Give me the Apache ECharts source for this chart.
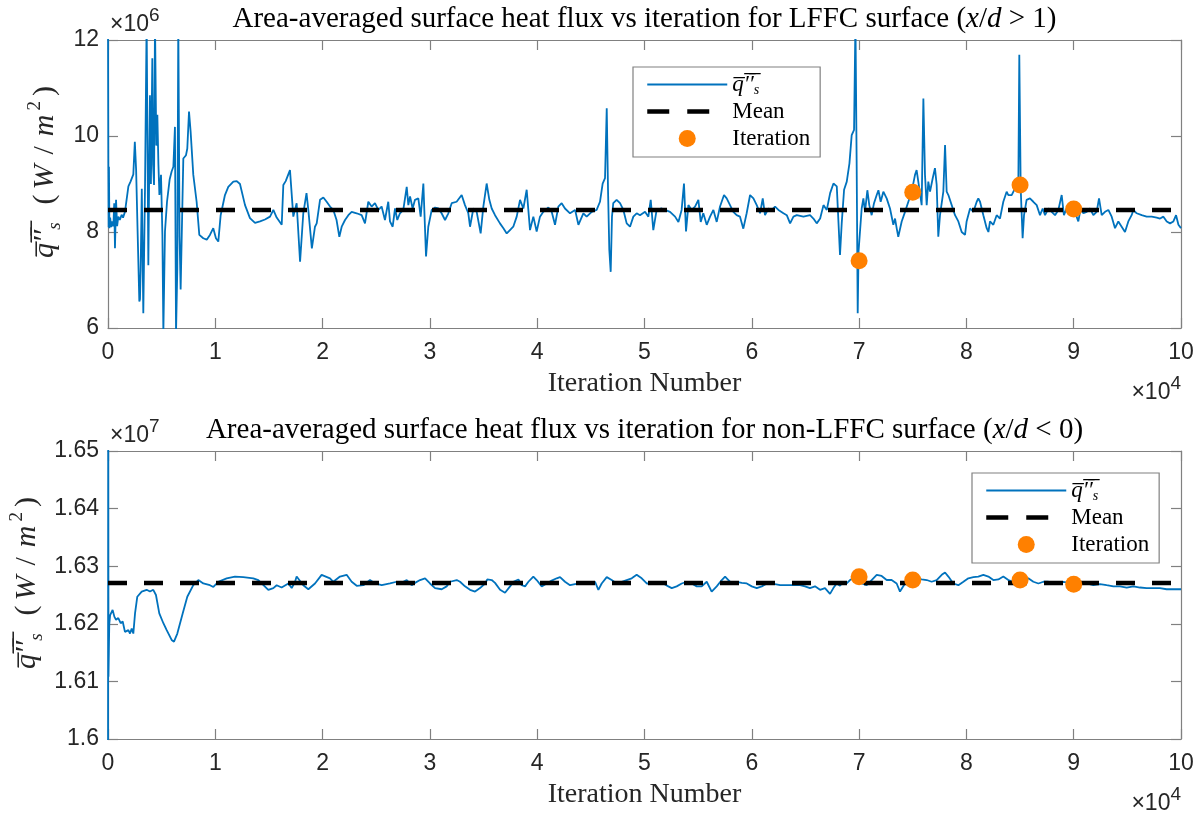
<!DOCTYPE html>
<html><head><meta charset="utf-8">
<script src="https://cdn.jsdelivr.net/npm/echarts@6/dist/echarts.min.js"></script>
<style>html,body{margin:0;padding:0;background:#fff}#c{width:1202px;height:822px}</style>
</head><body><div id="c"></div>
<script>
// x in units of 1e4 iterations, top values in 1e6 W/m^2, bottom values in 1e7 W/m^2
const topIter=[0,0.003,0.006,0.009,0.013,0.02,0.03,0.04,0.05,0.058,0.065,0.075,0.085,0.096,0.11,0.127,0.14,0.158,0.175,0.19,0.21,0.236,0.25,0.262,0.276,0.292,0.298,0.304,0.315,0.329,0.345,0.36,0.376,0.385,0.391,0.4,0.413,0.42,0.429,0.438,0.45,0.46,0.47,0.479,0.494,0.507,0.516,0.531,0.55,0.575,0.593,0.609,0.624,0.634,0.646,0.655,0.667,0.677,0.693,0.702,0.727,0.739,0.755,0.77,0.795,0.826,0.851,0.888,0.92,0.95,0.981,1.006,1.028,1.05,1.09,1.121,1.168,1.2,1.23,1.277,1.323,1.37,1.417,1.463,1.51,1.541,1.572,1.619,1.634,1.656,1.696,1.727,1.758,1.79,1.82,1.85,1.867,1.9,1.929,1.945,1.976,2.007,2.038,2.069,2.1,2.13,2.156,2.178,2.209,2.24,2.271,2.317,2.364,2.395,2.426,2.457,2.488,2.519,2.55,2.581,2.612,2.628,2.653,2.675,2.696,2.721,2.752,2.784,2.799,2.815,2.839,2.861,2.892,2.914,2.939,2.964,2.985,3.017,3.048,3.079,3.109,3.141,3.172,3.203,3.249,3.296,3.327,3.358,3.374,3.405,3.436,3.473,3.498,3.529,3.554,3.576,3.607,3.653,3.685,3.716,3.746,3.777,3.809,3.84,3.871,3.902,3.933,3.964,3.995,4.026,4.057,4.104,4.135,4.166,4.197,4.228,4.259,4.306,4.353,4.384,4.43,4.461,4.508,4.554,4.585,4.61,4.632,4.648,4.66,4.672,4.685,4.697,4.709,4.74,4.772,4.803,4.834,4.865,4.896,4.927,4.958,5.005,5.036,5.058,5.082,5.113,5.16,5.191,5.238,5.285,5.316,5.346,5.368,5.387,5.409,5.44,5.471,5.502,5.524,5.548,5.58,5.611,5.642,5.673,5.704,5.741,5.766,5.797,5.828,5.859,5.89,5.921,5.952,5.984,6.015,6.046,6.077,6.102,6.123,6.155,6.186,6.217,6.248,6.295,6.326,6.357,6.388,6.419,6.481,6.543,6.574,6.605,6.637,6.668,6.699,6.73,6.761,6.792,6.822,6.838,6.86,6.885,6.91,6.931,6.953,6.966,6.977,6.987,6.995,7.024,7.04,7.055,7.077,7.095,7.117,7.139,7.164,7.18,7.201,7.226,7.257,7.288,7.319,7.335,7.35,7.365,7.397,7.428,7.459,7.49,7.521,7.536,7.561,7.583,7.599,7.614,7.63,7.645,7.661,7.686,7.707,7.723,7.738,7.754,7.785,7.801,7.816,7.832,7.863,7.894,7.925,7.956,7.987,8.002,8.034,8.065,8.096,8.111,8.127,8.158,8.189,8.205,8.22,8.251,8.282,8.313,8.344,8.375,8.391,8.422,8.453,8.484,8.493,8.506,8.524,8.537,8.561,8.592,8.624,8.655,8.686,8.711,8.733,8.764,8.795,8.826,8.857,8.888,8.909,8.934,8.965,8.996,9.027,9.043,9.065,9.09,9.121,9.152,9.183,9.214,9.236,9.261,9.292,9.323,9.354,9.385,9.416,9.447,9.478,9.509,9.54,9.556,9.587,9.634,9.68,9.727,9.774,9.805,9.836,9.867,9.898,9.929,9.954,9.976,10];
const topFlux=[12.4,9.4,8.1,9.36,8.08,8.3,8.1,8.22,8.12,8.6,7.66,8.67,8.12,8.32,8.25,8.36,8.3,8.42,8.7,8.95,9.05,9.2,9.88,9.3,8.0,6.55,6.6,7.2,8.9,6.31,8.94,12.4,7.31,9.5,10.85,9.0,11.62,9.4,8.98,12.4,9.8,10.44,9.4,8.77,9.19,7.94,5.9,8.01,8.63,9.1,9.26,9.36,10.19,5.9,7.24,12.4,7.9,6.8,6.76,9.53,9.6,9.74,10.51,10.09,9.19,8.63,7.94,7.87,7.84,7.94,8.08,7.87,7.8,8.35,8.77,8.94,9.05,9.06,9.0,8.56,8.29,8.19,8.22,8.26,8.32,8.46,8.3,8.15,8.98,9.06,9.29,8.32,8.6,7.38,8.39,8.81,8.46,7.66,8.11,8.18,8.67,8.72,8.63,8.53,8.46,8.25,7.9,8.11,8.25,8.35,8.42,8.39,8.35,8.18,8.63,8.53,8.6,8.46,8.53,8.25,8.63,8.22,8.11,8.49,8.25,8.39,8.46,8.94,8.56,8.74,8.49,8.67,8.7,8.32,9.01,7.49,8.11,8.46,8.51,8.49,8.39,8.25,8.39,8.6,8.63,8.77,8.56,8.39,8.11,8.49,8.42,7.97,8.53,9.01,8.67,8.49,8.35,8.18,8.08,7.97,8.04,8.11,8.32,8.67,8.49,8.88,8.04,8.32,8.01,8.32,8.42,8.51,8.42,8.15,8.53,8.6,8.49,8.39,8.46,8.15,8.39,8.32,8.42,8.46,8.63,9.01,9.12,10.58,8.88,7.63,7.17,8.32,8.6,8.67,8.6,8.46,8.18,8.11,8.32,8.39,8.35,8.42,8.32,8.67,8.04,8.46,8.49,8.46,8.42,8.32,8.21,8.46,9.01,8.01,8.56,8.46,8.53,8.67,8.21,8.39,8.15,8.32,8.46,8.21,8.53,8.77,8.7,8.56,8.42,8.35,8.32,8.07,8.39,8.77,8.7,8.56,8.39,8.7,8.35,8.49,8.46,8.53,8.46,8.39,8.35,8.18,8.32,8.35,8.32,8.35,8.28,8.18,8.28,8.56,8.46,8.81,9.01,8.95,7.52,8.18,8.88,9.05,9.43,10.02,10.13,12.4,9.5,6.31,7.6,8.49,8.7,8.42,8.87,8.56,8.35,8.6,8.77,8.87,8.63,8.84,8.7,8.49,8.15,8.28,8.08,7.9,8.22,8.42,8.63,8.84,9.19,9.29,8.91,8.56,10.78,9.19,8.56,9.05,8.84,9.12,9.33,8.98,7.9,8.35,8.84,9.81,8.84,8.77,8.56,8.35,8.22,8.0,7.94,8.22,8.49,8.42,8.63,8.7,8.63,8.35,8.08,8.0,8.22,8.15,8.35,8.28,8.63,8.84,8.77,8.77,8.91,8.98,11.69,8.91,7.87,8.35,8.67,8.7,8.63,8.56,8.35,8.49,8.35,8.49,8.42,8.35,8.46,8.77,8.35,8.49,8.42,8.46,8.32,8.22,8.49,8.39,8.42,8.49,8.35,8.42,8.7,8.35,8.42,8.46,8.32,8.08,8.22,8.11,8.0,8.22,8.35,8.46,8.39,8.35,8.32,8.32,8.3,8.28,8.32,8.22,8.18,8.22,8.35,8.15,8.08];
const botIter=[0,0.002,0.004,0.008,0.012,0.02,0.043,0.06,0.075,0.096,0.118,0.137,0.158,0.19,0.205,0.221,0.236,0.252,0.273,0.314,0.36,0.391,0.422,0.447,0.478,0.516,0.547,0.593,0.615,0.646,0.696,0.739,0.795,0.842,0.888,0.95,0.982,1.028,1.106,1.183,1.261,1.354,1.401,1.494,1.541,1.572,1.618,1.681,1.712,1.743,1.758,1.82,1.867,1.929,1.991,2.069,2.1,2.162,2.224,2.271,2.318,2.38,2.442,2.488,2.551,2.628,2.69,2.721,2.784,2.83,2.861,2.908,2.955,3.001,3.048,3.11,3.156,3.188,3.25,3.281,3.327,3.374,3.421,3.467,3.514,3.535,3.576,3.607,3.654,3.7,3.747,3.778,3.825,3.856,3.887,3.918,3.964,3.995,4.042,4.088,4.135,4.182,4.213,4.259,4.306,4.352,4.399,4.446,4.492,4.539,4.57,4.601,4.648,4.694,4.741,4.788,4.834,4.881,4.927,4.974,5.021,5.067,5.114,5.176,5.222,5.254,5.3,5.347,5.394,5.44,5.487,5.533,5.58,5.626,5.673,5.72,5.751,5.782,5.813,5.86,5.906,5.953,6.0,6.046,6.093,6.14,6.171,6.217,6.264,6.326,6.388,6.45,6.496,6.542,6.589,6.636,6.682,6.729,6.76,6.791,6.822,6.853,6.884,6.915,6.946,6.993,7.024,7.07,7.117,7.164,7.21,7.257,7.303,7.35,7.381,7.428,7.474,7.537,7.583,7.63,7.676,7.723,7.77,7.801,7.832,7.878,7.925,7.972,8.018,8.065,8.111,8.158,8.205,8.251,8.298,8.344,8.391,8.438,8.48,8.531,8.577,8.624,8.671,8.717,8.764,8.81,8.857,8.904,8.95,8.997,9.059,9.121,9.183,9.245,9.307,9.37,9.432,9.494,9.556,9.618,9.68,9.742,9.804,9.866,9.929,10];
const botFlux=[1.58,1.66,1.6108,1.6154,1.62,1.6215,1.6224,1.6212,1.6207,1.621,1.6201,1.6204,1.6186,1.6189,1.6183,1.6192,1.6183,1.6218,1.6247,1.6256,1.6259,1.6256,1.6259,1.625,1.6218,1.6201,1.6189,1.6172,1.6169,1.6183,1.6218,1.6247,1.6267,1.6276,1.627,1.6267,1.6264,1.6273,1.6279,1.6282,1.6281,1.6279,1.6276,1.6259,1.6262,1.6267,1.6263,1.627,1.6262,1.6273,1.6282,1.6267,1.626,1.627,1.6285,1.6279,1.6273,1.6282,1.6285,1.6273,1.6266,1.6267,1.6276,1.627,1.6267,1.627,1.6273,1.627,1.6276,1.6267,1.6271,1.6276,1.6279,1.627,1.6262,1.626,1.6265,1.6273,1.6276,1.6273,1.6265,1.6259,1.6256,1.6262,1.627,1.6277,1.6276,1.6271,1.6259,1.6254,1.6265,1.6273,1.6277,1.6267,1.6265,1.6273,1.6282,1.6276,1.6265,1.627,1.6275,1.6279,1.6281,1.6273,1.6267,1.6269,1.627,1.6273,1.627,1.6273,1.6259,1.627,1.6281,1.6276,1.627,1.6273,1.6276,1.6279,1.6285,1.6279,1.627,1.627,1.6273,1.627,1.6265,1.6262,1.6265,1.627,1.6273,1.627,1.6265,1.6265,1.6273,1.6256,1.6265,1.6276,1.6282,1.6276,1.627,1.6273,1.6271,1.627,1.6265,1.6262,1.6265,1.627,1.6273,1.6269,1.6267,1.6267,1.6267,1.6267,1.6265,1.6262,1.6265,1.6259,1.6262,1.6252,1.6262,1.627,1.6266,1.6273,1.627,1.6276,1.6279,1.628,1.627,1.6267,1.6276,1.6285,1.6283,1.6276,1.6276,1.627,1.6256,1.627,1.6276,1.6279,1.6277,1.6276,1.6273,1.6276,1.6285,1.6289,1.6282,1.627,1.6267,1.6273,1.6279,1.6281,1.6282,1.6285,1.6282,1.6276,1.6277,1.6282,1.6276,1.6273,1.6276,1.6277,1.6279,1.6273,1.627,1.6273,1.6273,1.627,1.6269,1.6273,1.6271,1.627,1.6269,1.627,1.6267,1.6269,1.6267,1.6265,1.6265,1.6263,1.6265,1.6263,1.6262,1.6262,1.6262,1.626,1.626,1.626];
const meanTop=8.46, meanBot=1.6271;
const markIter=[7,7.5,8.5,9];
const markTop=[7.40,8.83,8.98,8.48];
const markBot=[1.62818,1.6276,1.6276,1.62686];
const xRange=[0,10];

const zip=(a,b)=>a.map((v,i)=>[v,b[i]]);
const SERIF='"Liberation Serif","Times New Roman",serif';
const SANS='"Liberation Sans",Arial,sans-serif';
const AX='#808080', TXT='#262626';
const QB='q\u0305\u2032\u0305\u2032\u0305';

function xAx(grid, pos, labels){
  return {type:'value',gridIndex:grid,position:pos,min:0,max:10,interval:1,
    axisLine:{show:true,onZero:false,lineStyle:{color:AX,width:1.2}},
    axisTick:{show:true,inside:true,length:10,lineStyle:{color:AX,width:1.2}},
    axisLabel:{show:labels,margin:13,fontFamily:SANS,fontSize:23,color:TXT},
    splitLine:{show:false},
    name:labels?'Iteration Number':'',nameLocation:'middle',nameGap:42,nameMoveOverlap:false,
    nameTextStyle:{fontFamily:SERIF,fontSize:28,color:TXT}};
}
const yRich={a:{fontFamily:SERIF,fontSize:30,fontStyle:'italic',lineHeight:38,verticalAlign:'middle'},
  s:{fontFamily:SERIF,fontSize:19,fontStyle:'italic',lineHeight:38,verticalAlign:'bottom',padding:[0,16,0,0]},
  n:{fontFamily:SERIF,fontSize:30,lineHeight:38,verticalAlign:'middle',padding:[0,2,0,2]},
  d:{fontFamily:SERIF,fontSize:30,lineHeight:38,verticalAlign:'middle',padding:[0,7,0,7]},
  i:{fontFamily:SERIF,fontSize:30,fontStyle:'italic',lineHeight:38,verticalAlign:'middle',padding:[0,3,0,3]},
  p:{fontFamily:SERIF,fontSize:19,lineHeight:38,verticalAlign:'top',padding:[0,3,0,1]}};
function yAx(grid,pos,labels,min,max,itv,gap){
  return {type:'value',gridIndex:grid,position:pos,min:min,max:max,interval:itv,
    axisLine:{show:true,onZero:false,lineStyle:{color:AX,width:1.2}},
    axisTick:{show:true,inside:true,length:10,lineStyle:{color:AX,width:1.2}},
    axisLabel:{show:labels,margin:9,fontFamily:SANS,fontSize:23,color:TXT},
    splitLine:{show:false},
    name:labels?'{a|'+QB+'}{s|s}{n|(}{i|W}{d|/}{i|m}{p|2}{n|)}':'',
    nameLocation:'middle',nameGap:gap||44,nameRotate:90,nameMoveOverlap:false,
    nameTextStyle:{fontFamily:SERIF,fontSize:30,color:TXT,padding:[0,0,0,26],rich:yRich}};
}
function legend(left,top){
  return {show:true,left:left,top:top,orient:'vertical',padding:[5,10,6,12],
    itemWidth:80,itemHeight:17,itemGap:2,borderColor:AX,borderWidth:1.2,backgroundColor:'#fff',
    selectedMode:false,
    textStyle:{fontFamily:SERIF,fontSize:23,color:'#000',lineHeight:25,
      rich:{a:{fontFamily:SERIF,fontSize:23,fontStyle:'italic',lineHeight:25,verticalAlign:'middle'},
            s:{fontFamily:SERIF,fontSize:14,fontStyle:'italic',lineHeight:25,verticalAlign:'bottom'}}},
    formatter:n=>n==='q'?'{a|'+QB+'}{s|s}':n,
    data:[{name:'q',itemStyle:{opacity:0}},
          {name:'Mean',itemStyle:{opacity:0},lineStyle:{type:[22,18],width:4.5,color:'#000'}},
          {name:'Iteration',icon:'circle'}]};
}
function seriesFor(xi,yi,iters,vals,mean,marks){
  return [
    {name:'q',type:'line',xAxisIndex:xi,yAxisIndex:yi,data:zip(iters,vals),showSymbol:false,symbol:'none',
     lineStyle:{color:'#0072BD',width:1.8},itemStyle:{color:'#0072BD'},clip:true,z:2},
    {name:'Mean',type:'line',xAxisIndex:xi,yAxisIndex:yi,data:xRange.map(x=>[x,mean]),showSymbol:false,symbol:'none',
     lineStyle:{color:'#000',width:4.5,type:[19,17]},itemStyle:{color:'#000'},z:3},
    {name:'Iteration',type:'scatter',xAxisIndex:xi,yAxisIndex:yi,data:zip(markIter,marks),symbol:'circle',symbolSize:17,
     itemStyle:{color:'#FF8000',opacity:1},z:4}
  ];
}
function mult(x,y,exp,align){
  return {type:'text',x:x,y:y,z:100,style:{text:'{b|\u00d710}{e|'+exp+'}',align:align,verticalAlign:'bottom',
    rich:{b:{fontFamily:SANS,fontSize:23,fill:TXT,lineHeight:30,verticalAlign:'bottom'},
          e:{fontFamily:SANS,fontSize:19,fill:TXT,lineHeight:30,verticalAlign:'top'}}}};
}
function title(y,txt,cond){
  return {type:'text',x:644.5,y:y,z:100,style:{text:'{n|'+txt+' (}{i|x}{n|/}{i|d}{n| '+cond+')}',align:'center',verticalAlign:'middle',
    rich:{n:{fontFamily:SERIF,fontSize:29,fill:'#000'},i:{fontFamily:SERIF,fontSize:29,fontStyle:'italic',fill:'#000'}}}};
}
const chart=echarts.init(document.getElementById('c'),null,{renderer:'canvas'});
chart.setOption({
  animation:false,backgroundColor:'#fff',
  grid:[{left:108,top:40,width:1073,height:288},{left:108,top:451,width:1073,height:288}],
  xAxis:[xAx(0,'bottom',true),xAx(0,'top',false),xAx(1,'bottom',true),xAx(1,'top',false)],
  yAxis:[yAx(0,'left',true,6,12,2,44),yAx(0,'right',false,6,12,2),yAx(1,'left',true,1.6,1.65,0.01,62),yAx(1,'right',false,1.6,1.65,0.01)],
  legend:[legend(633,67),legend(972,473)],
  series:[...seriesFor(0,0,topIter,topFlux,meanTop,markTop),...seriesFor(2,2,botIter,botFlux,meanBot,markBot)],
  graphic:[
    title(19,'Area-averaged surface heat flux vs iteration for LFFC surface','> 1'),
    title(430,'Area-averaged surface heat flux vs iteration for non-LFFC surface','< 0'),
    mult(110,36,'6','left'),
    mult(110,447,'7','left'),
    mult(1181,404,'4','right'),
    mult(1181,815,'4','right')
  ]
});
</script></body></html>
